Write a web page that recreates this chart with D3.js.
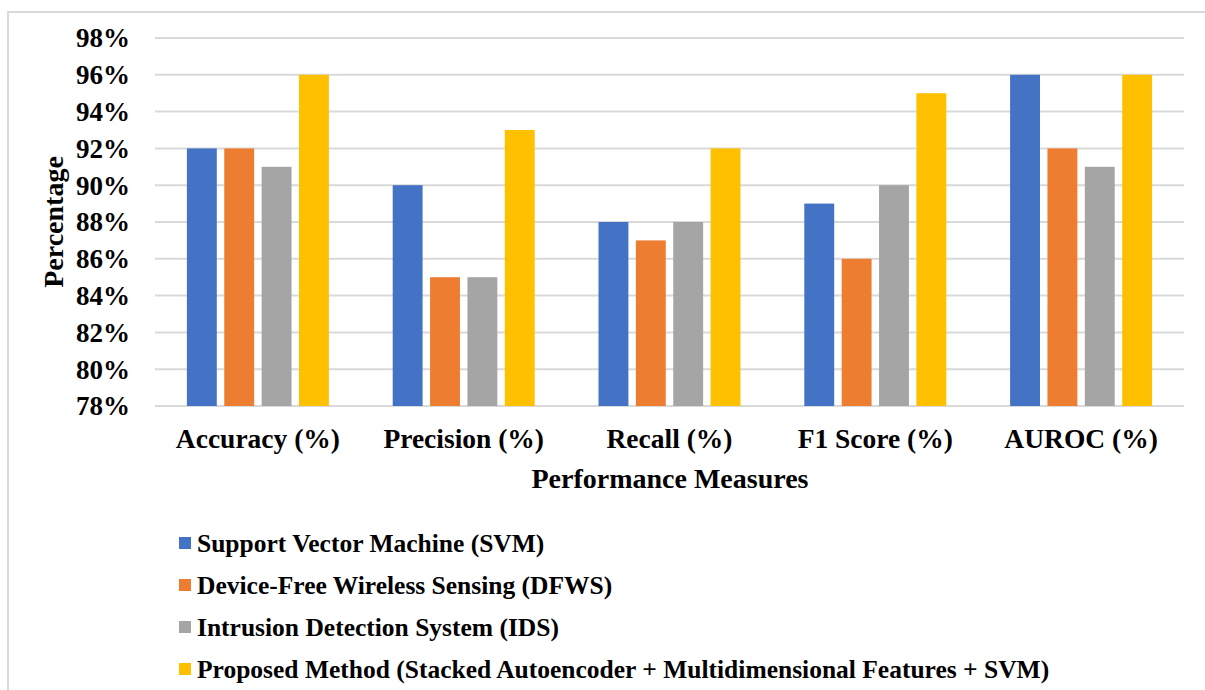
<!DOCTYPE html>
<html><head><meta charset="utf-8">
<script src="https://cdn.jsdelivr.net/npm/d3@7"></script>
<style>body{margin:0;background:#fff;} svg{display:block;}</style>
</head><body>
<script>
const categories = ["Accuracy (%)", "Precision (%)", "Recall (%)", "F1 Score (%)", "AUROC (%)"];
const seriesNames = [
  "Support Vector Machine (SVM)",
  "Device-Free Wireless Sensing (DFWS)",
  "Intrusion Detection System (IDS)",
  "Proposed Method (Stacked Autoencoder + Multidimensional Features + SVM)"
];
const svmValues = [92, 90, 88, 89, 96];
const dfwsValues = [92, 85, 87, 86, 92];
const idsValues = [91, 85, 88, 90, 91];
const proposedValues = [96, 93, 92, 95, 96];
const yTicks = [78, 80, 82, 84, 86, 88, 90, 92, 94, 96, 98];
const colors = ["#4472C4", "#ED7D31", "#A5A5A5", "#FFC000"];

(function () {
const allValues = [svmValues, dfwsValues, idsValues, proposedValues];
const W = 1205, H = 690;
const svg = d3.select("body").append("svg").attr("width", W).attr("height", H);
const font = "'Liberation Serif','Times New Roman',serif";

// outer border
svg.append("rect").attr("x", 8).attr("y", 12).attr("width", W + 10).attr("height", H + 10)
  .attr("fill", "none").attr("stroke", "#d9d9d9").attr("stroke-width", 2);

const pl = 155, pr = 1184, pt = 38, pb = 406;
const x0 = d3.scaleBand().domain(categories).range([pl, pr]).paddingInner(0).paddingOuter(0);
const groupW = 142;
const x1 = d3.scaleBand().domain(d3.range(4)).range([0, groupW]).paddingInner(0.2).paddingOuter(0);
const y = d3.scaleLinear().domain([78, 98]).range([pb, pt]);

// gridlines
svg.append("g").selectAll("line").data(yTicks).join("line")
  .attr("x1", pl).attr("x2", pr)
  .attr("y1", d => y(d)).attr("y2", d => y(d))
  .attr("stroke", "#d9d9d9").attr("stroke-width", 2);

// y tick labels
svg.append("g").selectAll("text").data(yTicks).join("text")
  .attr("x", 130).attr("y", d => y(d)).attr("dy", "0.35em")
  .attr("text-anchor", "end")
  .attr("font-family", font).attr("font-weight", "bold").attr("font-size", 27)
  .attr("fill", "#000").text(d => d + "%");

// bars
const groups = svg.append("g").selectAll("g").data(categories).join("g")
  .attr("transform", c => `translate(${x0(c) + (x0.bandwidth() - groupW) / 2},0)`);
groups.selectAll("rect").data((c, i) => allValues.map((s, k) => ({k, v: s[i]}))).join("rect")
  .attr("x", d => x1(d.k)).attr("width", x1.bandwidth())
  .attr("y", d => y(d.v)).attr("height", d => y(78) - y(d.v))
  .attr("fill", d => colors[d.k]);

// x labels
svg.append("g").selectAll("text").data(categories).join("text")
  .attr("x", c => x0(c) + x0.bandwidth() / 2).attr("y", 448)
  .attr("text-anchor", "middle")
  .attr("font-family", font).attr("font-weight", "bold").attr("font-size", 27.5)
  .attr("fill", "#000").text(c => c);

// axis titles
svg.append("text").attr("x", 670).attr("y", 488).attr("text-anchor", "middle")
  .attr("font-family", font).attr("font-weight", "bold").attr("font-size", 28)
  .text("Performance Measures");
svg.append("text").attr("transform", "translate(63,222) rotate(-90)").attr("text-anchor", "middle")
  .attr("font-family", font).attr("font-weight", "bold").attr("font-size", 28)
  .text("Percentage");

// legend
const lg = svg.append("g").selectAll("g").data(seriesNames).join("g")
  .attr("transform", (d, i) => `translate(179,${543 + i * 42})`);
lg.append("rect").attr("x", 0).attr("y", -6).attr("width", 12).attr("height", 12)
  .attr("fill", (d, i) => colors[i]);
lg.append("text").attr("x", 18).attr("y", 0).attr("dy", "0.35em")
  .attr("font-family", font).attr("font-weight", "bold").attr("font-size", 25.5)
  .text(d => d);
})();
</script>
</body></html>
